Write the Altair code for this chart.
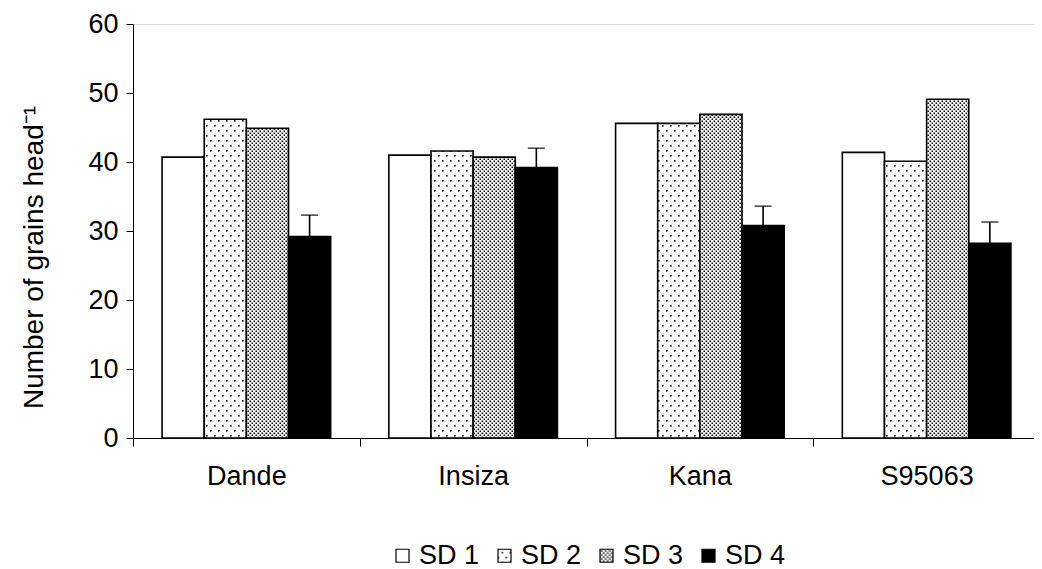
import altair as alt
import pandas as pd
import jinja2

varieties = ["Dande", "Insiza", "Kana", "S95063"]
sowing_dates = ["SD 1", "SD 2", "SD 3", "SD 4"]
sd1 = [40.7, 41.0, 45.6, 41.4]
sd2 = [46.2, 41.6, 45.6, 40.1]
sd3 = [44.9, 40.7, 46.9, 49.1]
sd4 = [29.2, 39.2, 30.8, 28.2]
sd4_err = [3.1, 2.8, 2.8, 3.1]

rows = []
for i, v in enumerate(varieties):
    for sd, vals in zip(sowing_dates, [sd1, sd2, sd3, sd4]):
        rows.append({"variety": v, "sd": sd, "value": vals[i]})
df = pd.DataFrame(rows)

err = pd.DataFrame({
    "variety": varieties,
    "sd": ["SD 4"] * 4,
    "value": sd4,
    "top": [a + b for a, b in zip(sd4, sd4_err)],
})

FONT = "Liberation Sans"
FS = 27

xscale = alt.Scale(domain=varieties, paddingInner=0, paddingOuter=0)
xoff = alt.Scale(domain=sowing_dates, paddingInner=0, paddingOuter=0.69)

bars = alt.Chart(df).mark_bar(stroke="black", strokeWidth=1.6).encode(
    x=alt.X("variety:N", scale=xscale, sort=varieties, axis=alt.Axis(
        title=None, labelAngle=0, tickBand="extent", tickSize=8,
        labelPadding=17, labelFontSize=FS, labelFont=FONT, labelColor="black",
        domainColor="black", tickColor="black", domainWidth=1, tickWidth=1)),
    xOffset=alt.XOffset("sd:N", scale=xoff, sort=sowing_dates),
    y=alt.Y("value:Q", scale=alt.Scale(domain=[0, 60], nice=False), axis=alt.Axis(
        title="Number of grains head\u207b\u00b9", values=[0, 10, 20, 30, 40, 50, 60],
        grid=False, tickSize=7, labelPadding=8, labelFontSize=FS, labelFont=FONT,
        labelColor="black", titleFont=FONT, titleFontSize=28, titleFontWeight="normal",
        titleColor="black", titlePadding=39, titleY=233, domainColor="black",
        tickColor="black")),
    fill=alt.Fill("sd:N", sort=sowing_dates, scale=alt.Scale(
        domain=sowing_dates, range=["white", "url(#sd2dots)", "url(#sd3dots)", "black"]),
        legend=alt.Legend(title=None, orient="none", direction="horizontal",
                          legendX=256, legendY=518, symbolType="square", symbolSize=169,
                          symbolStrokeColor="black", symbolStrokeWidth=1.2,
                          symbolOpacity=1, labelFontSize=FS, labelFont=FONT,
                          labelColor="black", labelOffset=3, columnPadding=11, padding=0)),
)

rule = alt.Chart(err).mark_rule(color="black", strokeWidth=1.6).encode(
    x=alt.X("variety:N", scale=xscale, sort=varieties),
    xOffset=alt.XOffset("sd:N", scale=xoff, sort=sowing_dates),
    y="value:Q",
    y2="top:Q",
)

cap = alt.Chart(err).mark_tick(color="black", thickness=1.6, size=17, orient="horizontal").encode(
    x=alt.X("variety:N", scale=xscale, sort=varieties),
    xOffset=alt.XOffset("sd:N", scale=xoff, sort=sowing_dates),
    y="top:Q",
)

chart = alt.layer(bars, rule, cap).properties(
    width=907, height=414,
    padding={"left": 12, "top": 2, "right": 0, "bottom": 5},
).configure_view(stroke=None).configure(background="white")

TEMPLATE = jinja2.Template("""<!DOCTYPE html>
<html>
<head>
  <style>
    .vega-embed { display: inline-block; }
  </style>
  <script type="text/javascript" src="{{ base_url }}/vega@{{ vega_version }}"></script>
  <script type="text/javascript" src="{{ base_url }}/vega-lite@{{ vegalite_version }}"></script>
  <script type="text/javascript" src="{{ base_url }}/vega-embed@{{ vegaembed_version }}"></script>
</head>
<body>
  <svg width="0" height="0" style="position:absolute">
    <defs>
      <pattern id="sd2dots" width="8" height="10" patternUnits="userSpaceOnUse">
        <rect width="8" height="10" fill="white"/>
        <rect x="1" y="1" width="1.6" height="1.6" fill="black"/>
        <rect x="5" y="6" width="1.6" height="1.6" fill="black"/>
      </pattern>
      <pattern id="sd3dots" width="4" height="4" patternUnits="userSpaceOnUse">
        <rect width="4" height="4" fill="white"/>
        <rect x="0.5" y="0.5" width="1.6" height="1.6" fill="black"/>
        <rect x="2.5" y="2.5" width="1.6" height="1.6" fill="black"/>
      </pattern>
    </defs>
  </svg>
  <div id="{{ output_div }}"></div>
  <script type="text/javascript">
    (function(spec, embedOpt){
      vegaEmbed("#{{ output_div }}", spec, embedOpt).catch(console.error);
    })({{ spec }}, {{ embed_options }});
  </script>
</body>
</html>
""")

chart.save("out.html", embed_options={"renderer": "svg", "actions": False}, template=TEMPLATE)
